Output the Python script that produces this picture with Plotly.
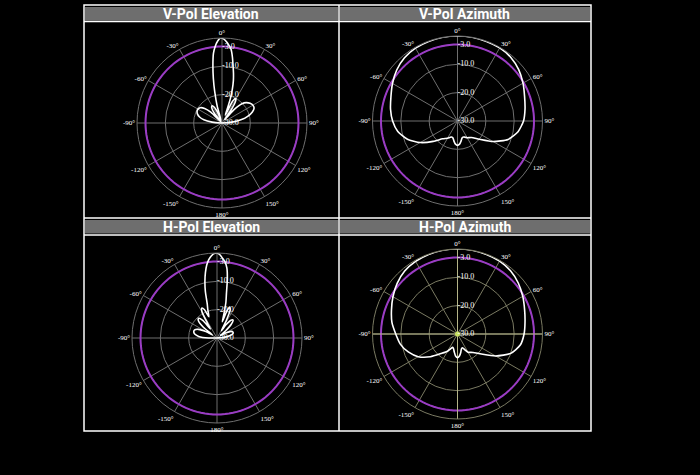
import plotly.graph_objects as go

W, H = 700, 475
R = 85

# ---------------- data ----------------
ANG_TICKS = [0, 30, 60, 90, 120, 150, 180, 210, 240, 270, 300, 330]
ANG_LABELS = ["0°", "30°", "60°", "90°", "120°", "150°", "180°",
              "-150°", "-120°", "-90°", "-60°", "-30°"]
RAD_TICKS = [-30, -20, -10, -3]
RAD_LABELS = ["-30.0", "-20.0", "-10.0", "-3.0"]
REF_LEVEL = -3

titles = ["V-Pol Elevation", "V-Pol Azimuth", "H-Pol Elevation", "H-Pol Azimuth"]

vel_theta = [-180, -150, -120, -95, -90, -85, -80, -75, -70, -65, -60, -55, -50, -46, -42,
             -38, -34, -30, -26, -22, -19, -16, -13, -11, -9, -7, -5, -3, -1, 1, 3, 5, 7,
             9, 11, 13, 15, 17, 19, 21, 23, 26, 29, 32, 35, 38, 42, 46, 50, 55, 60, 65,
             70, 75, 80, 85, 90, 95, 120, 150, 180]
vel_db = [-30, -30, -30, -30, -29.5, -26.5, -23.5, -21.8, -20.8, -20.3, -20.2, -20.6, -22.0,
          -24.5, -29.5, -25.5, -23.5, -23, -23.8, -26.5, -29, -24, -18.5, -14, -9.5, -5.2,
          -2.8, -1.0, 0, -0.3, -1.2, -2.4, -3.8, -6.5, -9.5, -12, -14.5, -17.5, -21, -25.5,
          -27, -21.5, -20, -21, -24.5, -28.5, -23.5, -20.2, -18.8, -17.9, -17.4, -17.5,
          -18.6, -20.5, -23, -26.5, -29.5, -30, -30, -30, -30]

hel_theta = [-180, -150, -120, -95, -90, -85, -80, -75, -70, -65, -60, -56, -52, -47, -43,
             -39, -36, -33, -30, -27, -24, -21, -18, -16, -14, -12, -10, -8, -6, -4, -2, 0,
             2, 4, 6, 8, 10, 12, 14, 16, 18, 20, 22, 25, 28, 31, 34, 38, 42, 46, 50, 55,
             60, 65, 70, 75, 80, 85, 90, 95, 120, 150, 180]
hel_db = [-30, -30, -30, -30, -27, -23.5, -22, -21.5, -21.6, -22.8, -25.5, -28, -24, -21,
          -20.5, -22, -26, -24, -19.5, -18.2, -19, -22, -19.5, -17.5, -13, -9.5, -6.5, -4,
          -2.2, -1, -0.2, 0, -0.6, -1.8, -3, -5, -9, -14, -17, -21, -24, -20, -18.2, -19,
          -23, -27, -24.5, -22, -21.5, -23, -26, -28.5, -26.5, -24.5, -24, -24.2, -25.5,
          -27.5, -30, -30, -30, -30, -30]

vaz_theta = [-180, -175, -170, -165, -160, -155, -150, -140, -130, -120, -110, -100, -90,
             -80, -70, -60, -50, -40, -30, -20, -10, 0, 10, 20, 30, 40, 50, 60, 70, 80, 90,
             100, 110, 120, 130, 140, 150, 155, 160, 165, 170, 175, 180]
vaz_db = [-21.4, -21.8, -22.8, -23.8, -24.0, -23.6, -23.0, -21.8, -18.8, -14.8, -11.2,
          -8.6, -7.1, -6.0, -5.0, -3.5, -2.0, -0.9, -0.3, -0.1, 0, 0, 0, -0.1, -0.2, -0.7,
          -1.8, -3.3, -4.8, -5.8, -6.7, -8.3, -11, -15.5, -20, -22.4, -23.2, -23.7, -24.0,
          -23.8, -22.8, -21.8, -21.4]

haz_theta = vaz_theta
haz_db = [-21.6, -22.2, -23.5, -24.6, -25.0, -24.2, -23.0, -21.0, -17.5, -14.0, -11.5,
          -9.5, -8.2, -6.5, -5.2, -3.7, -2.2, -1.0, -0.4, -0.1, 0, 0, 0, -0.1, -0.3, -0.9,
          -2.0, -3.4, -4.8, -5.8, -6.5, -7.5, -10, -14.5, -19, -21.5, -22.6, -23.8, -24.8,
          -24.6, -23.4, -22.2, -21.6]

patterns = [(vel_theta, vel_db), (vaz_theta, vaz_db), (hel_theta, hel_db), (haz_theta, haz_db)]
centers = [(222, 123), (457.5, 121), (217, 338), (457.5, 334)]

# ---------------- figure ----------------
def dom(cx, cy):
    return dict(x=[(cx - R) / W, (cx + R) / W], y=[1 - (cy + R) / H, 1 - (cy - R) / H])

def polar_cfg(cx, cy, grid):
    return dict(
        domain=dom(cx, cy), bgcolor="black",
        angularaxis=dict(direction="clockwise", rotation=90, tickmode="array",
                         tickvals=ANG_TICKS, ticktext=ANG_LABELS, showgrid=True,
                         gridcolor=grid, gridwidth=1, showline=True, linecolor=grid,
                         linewidth=1, ticks="",
                         tickfont=dict(color="white", size=7, family="Liberation Serif")),
        radialaxis=dict(range=[-30, 0], tickmode="array", tickvals=RAD_TICKS,
                        angle=90, showline=False, showticklabels=False,
                        ticks="", gridcolor=grid, gridwidth=1))

fig = go.Figure()
ref_theta = list(range(0, 361, 3))
for i, ((th, db), (cx, cy)) in enumerate(zip(patterns, centers)):
    sp = "polar" if i == 0 else f"polar{i + 1}"
    fig.add_trace(go.Scatterpolar(theta=ref_theta, r=[REF_LEVEL] * len(ref_theta),
                                  mode="lines", line=dict(color="#9a3cc4", width=2),
                                  subplot=sp, hoverinfo="skip", showlegend=False))
    if i == 3:
        for a, b in [(0, 180), (90, 270)]:
            fig.add_trace(go.Scatterpolar(theta=[a, b], r=[0, 0], mode="lines",
                                          line=dict(color="#b4b488", width=1),
                                          subplot=sp, hoverinfo="skip", showlegend=False))
        fig.add_trace(go.Scatterpolar(theta=[0], r=[-30], mode="markers",
                                      marker=dict(color="#c8e060", size=5),
                                      subplot=sp, hoverinfo="skip", showlegend=False))
    fig.add_trace(go.Scatterpolar(theta=th, r=db, mode="lines",
                                  line=dict(color="white", width=1.6, shape="spline",
                                            smoothing=0.6),
                                  subplot=sp, showlegend=False))
    # radial tick labels, to the right of the 0° spoke
    fig.add_trace(go.Scatterpolar(theta=[0] * len(RAD_TICKS), r=RAD_TICKS, text=RAD_LABELS,
                                  mode="text", textposition="middle right",
                                  textfont=dict(color="white", size=8,
                                                family="Liberation Serif"),
                                  subplot=sp, hoverinfo="skip", showlegend=False))

layout = dict(width=W, height=H, margin=dict(l=0, r=0, t=0, b=0),
              paper_bgcolor="black", plot_bgcolor="black", showlegend=False)
grids = ["#6f6f6f", "#6f6f6f", "#6f6f6f", "#7a7a62"]
for i, (cx, cy) in enumerate(centers):
    key = "polar" if i == 0 else f"polar{i + 1}"
    layout[key] = polar_cfg(cx, cy, grids[i])
fig.update_layout(**layout)

def px(x):
    return x / W

def py(y):
    return 1 - y / H

shapes = []
bars = [(85, 338, 7, 20.5), (340, 590, 7, 20.5), (85, 338, 220, 233.5), (340, 590, 220, 233.5)]
for x0, x1, y0, y1 in bars:
    shapes.append(dict(type="rect", xref="paper", yref="paper", x0=px(x0), x1=px(x1),
                       y0=py(y1), y1=py(y0), fillcolor="#6e6e6e", line=dict(width=0),
                       layer="below"))
white = dict(color="white", width=1.5)
shapes.append(dict(type="rect", xref="paper", yref="paper", x0=px(84), x1=px(591),
                   y0=py(431), y1=py(5), line=white))
shapes.append(dict(type="line", xref="paper", yref="paper", x0=px(339), x1=px(339),
                   y0=py(431), y1=py(5), line=white))
for yy in [21.5, 218, 235]:
    shapes.append(dict(type="line", xref="paper", yref="paper", x0=px(84), x1=px(591),
                       y0=py(yy), y1=py(yy), line=white))
fig.update_layout(shapes=shapes)

title_pos = [(211, 14), (464.5, 14), (211, 227.5), (464.5, 227.5)]
for t, (x, y) in zip(titles, title_pos):
    fig.add_annotation(text=f"<b>{t}</b>", x=px(x), y=py(y), xref="paper", yref="paper",
                       showarrow=False, font=dict(color="white", size=14, family="Roboto"),
                       xanchor="center", yanchor="middle")

fig.write_html("out.html", config={"displayModeBar": False},
               post_script="document.body.style.margin='0';document.body.style.background='black';")
